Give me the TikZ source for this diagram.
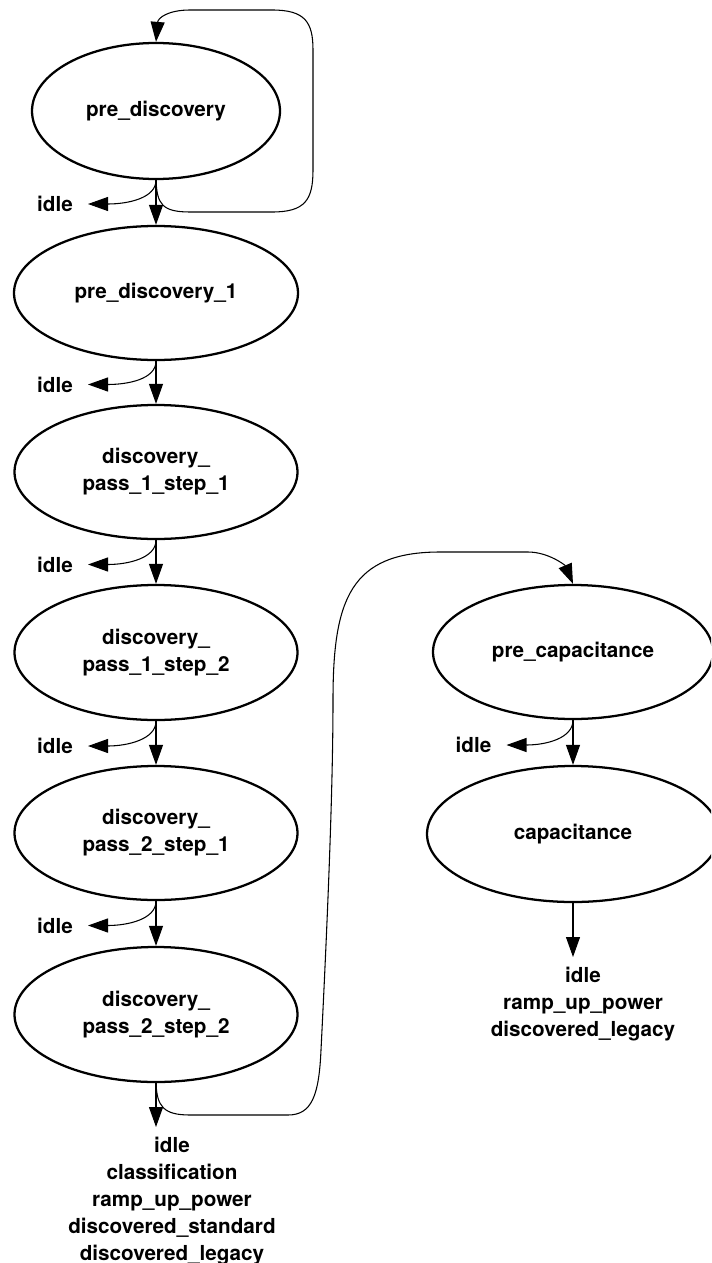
\documentclass[tikz,border=0pt]{standalone}
\usepackage{fontspec}
\setmainfont{TeX Gyre Heros}
\usetikzlibrary{shapes.geometric,arrows.meta,calc}
\newcommand{\statefont}{\bfseries\fontsize{15.5pt}{20.25pt}\selectfont}

\begin{document}
\begin{tikzpicture}[x=0.75pt,y=-0.75pt,
  state/.style={draw,ellipse,line width=1.7pt,inner sep=0pt,align=center,font=\statefont},
  idlebox/.style={inner xsep=11.2pt,inner ysep=0pt,font=\statefont},
  exitbox/.style={inner sep=7.5pt,anchor=north,align=center,font=\statefont},
  edge/.style={line width=0.8pt,-{Triangle[length=15pt,width=10.5pt]}},
]
\clip (0,0) rectangle (711,1263);

% state machine, left column
\node[state,minimum width=186pt,minimum height=102pt] (pd) at (156,111) {pre\_discovery};
\node[state,minimum width=213pt,minimum height=100.5pt] (pd1) at (156,293) {pre\_discovery\_1};
\node[state,minimum width=212.25pt,minimum height=100.5pt] (p11) at (156,472) {discovery\_\\pass\_1\_step\_1};
\node[state,minimum width=212.25pt,minimum height=101.25pt] (p12) at (156,652.5) {discovery\_\\pass\_1\_step\_2};
\node[state,minimum width=212.25pt,minimum height=100.5pt] (p21) at (156,833) {discovery\_\\pass\_2\_step\_1};
\node[state,minimum width=212.25pt,minimum height=101.25pt] (p22) at (156,1014.5) {discovery\_\\pass\_2\_step\_2};

% right column
\node[state,minimum width=210pt,minimum height=100.5pt] (pc) at (573,652) {pre\_capacitance};
\node[state,minimum width=219pt,minimum height=102pt] (cap) at (573,834) {capacitance};

% idle exits
\node[idlebox] (i1) at (55,204) {idle};
\node[idlebox] (i2) at (55,384.5) {idle};
\node[idlebox] (i3) at (55,564.5) {idle};
\node[idlebox] (i4) at (55,746) {idle};
\node[idlebox] (i5) at (55,925.5) {idle};
\node[idlebox] (i6) at (473.5,745) {idle};

% terminal exits
\node[exitbox] (exL) at (172,1127) {idle\\classification\\ramp\_up\_power\\discovered\_standard\\discovered\_legacy};
\node[exitbox] (exR) at (583,957) {idle\\ramp\_up\_power\\discovered\_legacy};

% forward transitions
\draw[edge] (pd.south) -- (pd1.north);
\draw[edge] (pd1.south) -- (p11.north);
\draw[edge] (p11.south) -- (p12.north);
\draw[edge] (p12.south) -- (p21.north);
\draw[edge] (p21.south) -- (p22.north);
\draw[edge] (pc.south) -- (cap.north);
\draw[edge] (p22.south) -- (p22.south |- exL.north);
\draw[edge] (cap.south) -- (cap.south |- exR.north);

% fall back to idle
\foreach \s/\t in {pd/i1,pd1/i2,p11/i3,p12/i4,p21/i5,pc/i6}
  \draw[edge] (\s.south) .. controls +(0,18) and +(40,0) .. (\t.east);

% self loop on pre_discovery
\draw[edge] (pd.south) .. controls (157,204) and (162,212) .. (190,212) -- (272,212)
  .. controls (305,212) and (313,200) .. (313,170) -- (313,50)
  .. controls (313,22) and (305,10) .. (272,10) -- (190,10)
  .. controls (168,10) and (158,18) .. (pd.north);

% long transition to pre_capacitance
\draw[edge] (p22.south) .. controls (157,1106) and (163,1115) .. (190,1115) -- (288,1115)
  .. controls (312,1115) and (319,1095) .. (321,1050)
  .. controls (326,950) and (333,800) .. (333,700)
  .. controls (333,600) and (350,552) .. (440,552) -- (528,552)
  .. controls (548,552) and (565,565) .. (pc.north);
\end{tikzpicture}
\end{document}
